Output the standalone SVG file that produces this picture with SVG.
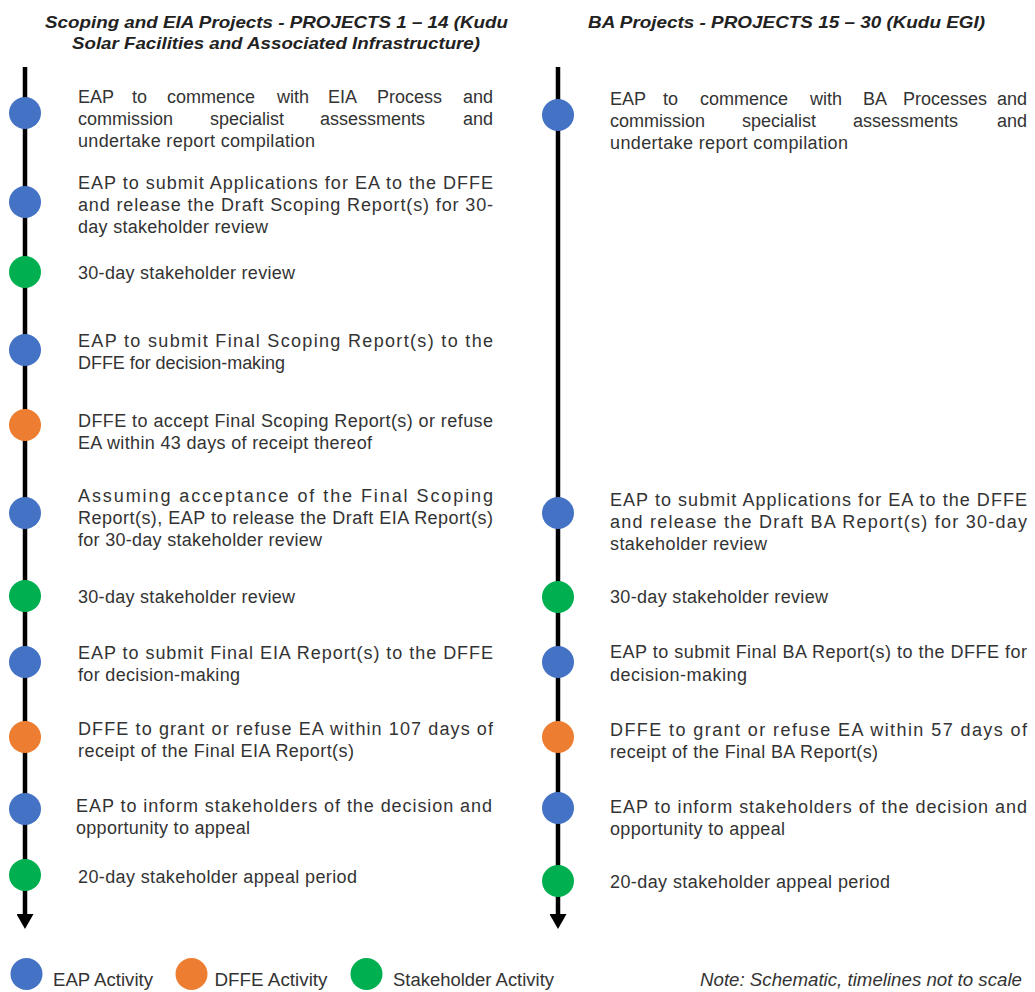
<svg xmlns="http://www.w3.org/2000/svg" width="1035" height="992" viewBox="0 0 1035 992">
<style>
text{font-family:"Liberation Sans",Arial,sans-serif;fill:#333;}
.b{font-size:18px;}
.h{font-size:17px;font-weight:bold;font-style:italic;fill:#222;}
.lg{font-size:18px;}
.nt{font-size:18px;font-style:italic;}
.eap{fill:#4472C4;}
.dffe{fill:#ED7D31;}
.stk{fill:#00B050;}
.tl{stroke:#000;stroke-width:4.5;fill:none;}
</style>
<defs>
<marker id="arr" markerUnits="userSpaceOnUse" viewBox="0 0 15 17" refX="0" refY="8.5" markerWidth="15" markerHeight="17" orient="auto">
<path d="M0,0 L15,8.5 L0,17 Z" fill="#000"/>
</marker>
</defs>
<rect width="1035" height="992" fill="#fff"/>

<g id="headers">
<text class="h" x="276.5" y="28" text-anchor="middle" textLength="463" lengthAdjust="spacingAndGlyphs">Scoping and EIA Projects - PROJECTS 1 – 14 (Kudu</text>
<text class="h" x="276" y="48.5" text-anchor="middle" textLength="408" lengthAdjust="spacingAndGlyphs">Solar Facilities and Associated Infrastructure)</text>
<text class="h" x="786.5" y="28" text-anchor="middle" textLength="397" lengthAdjust="spacingAndGlyphs">BA Projects - PROJECTS 15 – 30 (Kudu EGI)</text>
</g>

<g id="connectors">
<path class="tl" d="M25,67 V914" marker-end="url(#arr)"/>
<path class="tl" d="M558,67 V914" marker-end="url(#arr)"/>
</g>

<g id="L1">
<circle class="eap" cx="25" cy="113" r="16"/>
<text class="b" y="103"><tspan x="78">EAP</tspan><tspan x="132">to</tspan><tspan x="167">commence</tspan><tspan x="277">with</tspan><tspan x="328">EIA</tspan><tspan x="377">Process</tspan></text>
<text class="b" x="493" y="103" text-anchor="end">and</text>
<text class="b" y="125"><tspan x="78">commission</tspan><tspan x="210">specialist</tspan><tspan x="320">assessments</tspan></text>
<text class="b" x="493" y="125" text-anchor="end">and</text>
<text class="b" x="78" y="147" textLength="237" lengthAdjust="spacing">undertake report compilation</text>
</g>

<g id="L2">
<circle class="eap" cx="25" cy="202" r="16"/>
<text class="b" x="78" y="189" textLength="415" lengthAdjust="spacing">EAP to submit Applications for EA to the DFFE</text>
<text class="b" x="78" y="211" textLength="415" lengthAdjust="spacing">and release the Draft Scoping Report(s) for 30-</text>
<text class="b" x="78" y="233" textLength="190" lengthAdjust="spacing">day stakeholder review</text>
</g>

<g id="L3">
<circle class="stk" cx="25" cy="272" r="16"/>
<text class="b" x="78" y="279" textLength="217" lengthAdjust="spacing">30-day stakeholder review</text>
</g>

<g id="L4">
<circle class="eap" cx="25" cy="350" r="16"/>
<text class="b" x="78" y="347" textLength="415" lengthAdjust="spacing">EAP to submit Final Scoping Report(s) to the</text>
<text class="b" x="78" y="369" textLength="207" lengthAdjust="spacing">DFFE for decision-making</text>
</g>

<g id="L5">
<circle class="dffe" cx="25" cy="425" r="16"/>
<text class="b" x="78" y="427" textLength="415" lengthAdjust="spacing">DFFE to accept Final Scoping Report(s) or refuse</text>
<text class="b" x="78" y="449" textLength="294" lengthAdjust="spacing">EA within 43 days of receipt thereof</text>
</g>

<g id="L6">
<circle class="eap" cx="25" cy="513" r="16"/>
<text class="b" x="78" y="502" textLength="415" lengthAdjust="spacing">Assuming acceptance of the Final Scoping</text>
<text class="b" x="78" y="524" textLength="415" lengthAdjust="spacing">Report(s), EAP to release the Draft EIA Report(s)</text>
<text class="b" x="78" y="546" textLength="244" lengthAdjust="spacing">for 30-day stakeholder review</text>
</g>

<g id="L7">
<circle class="stk" cx="25" cy="596" r="16"/>
<text class="b" x="78" y="603" textLength="217" lengthAdjust="spacing">30-day stakeholder review</text>
</g>

<g id="L8">
<circle class="eap" cx="25" cy="662" r="16"/>
<text class="b" x="78" y="659" textLength="415" lengthAdjust="spacing">EAP to submit Final EIA Report(s) to the DFFE</text>
<text class="b" x="78" y="681" textLength="162" lengthAdjust="spacing">for decision-making</text>
</g>

<g id="L9">
<circle class="dffe" cx="25" cy="737" r="16"/>
<text class="b" x="78" y="735" textLength="415" lengthAdjust="spacing">DFFE to grant or refuse EA within 107 days of</text>
<text class="b" x="78" y="757" textLength="276" lengthAdjust="spacing">receipt of the Final EIA Report(s)</text>
</g>

<g id="L10">
<circle class="eap" cx="25" cy="809" r="16"/>
<text class="b" x="76" y="812" textLength="416" lengthAdjust="spacing">EAP to inform stakeholders of the decision and</text>
<text class="b" x="76" y="834" textLength="174" lengthAdjust="spacing">opportunity to appeal</text>
</g>

<g id="L11">
<circle class="stk" cx="25" cy="875" r="16"/>
<text class="b" x="78" y="883" textLength="279" lengthAdjust="spacing">20-day stakeholder appeal period</text>
</g>

<g id="R1">
<circle class="eap" cx="558" cy="115" r="16"/>
<text class="b" y="105"><tspan x="610">EAP</tspan><tspan x="663">to</tspan><tspan x="700">commence</tspan><tspan x="810">with</tspan><tspan x="863">BA</tspan><tspan x="903">Processes</tspan></text>
<text class="b" x="1027" y="105" text-anchor="end">and</text>
<text class="b" y="127"><tspan x="610">commission</tspan><tspan x="742">specialist</tspan><tspan x="853">assessments</tspan></text>
<text class="b" x="1027" y="127" text-anchor="end">and</text>
<text class="b" x="610" y="149" textLength="238" lengthAdjust="spacing">undertake report compilation</text>
</g>

<g id="R2">
<circle class="eap" cx="558" cy="513" r="16"/>
<text class="b" x="610" y="506" textLength="417" lengthAdjust="spacing">EAP to submit Applications for EA to the DFFE</text>
<text class="b" x="610" y="528" textLength="417" lengthAdjust="spacing">and release the Draft BA Report(s) for 30-day</text>
<text class="b" x="610" y="550" textLength="157" lengthAdjust="spacing">stakeholder review</text>
</g>

<g id="R3">
<circle class="stk" cx="558" cy="597" r="16"/>
<text class="b" x="610" y="603" textLength="218" lengthAdjust="spacing">30-day stakeholder review</text>
</g>

<g id="R4">
<circle class="eap" cx="558" cy="662" r="16"/>
<text class="b" x="610" y="658" textLength="417" lengthAdjust="spacing">EAP to submit Final BA Report(s) to the DFFE for</text>
<text class="b" x="610" y="681" textLength="137" lengthAdjust="spacing">decision-making</text>
</g>

<g id="R5">
<circle class="dffe" cx="558" cy="737" r="16"/>
<text class="b" x="610" y="736" textLength="417" lengthAdjust="spacing">DFFE to grant or refuse EA within 57 days of</text>
<text class="b" x="610" y="758" textLength="268" lengthAdjust="spacing">receipt of the Final BA Report(s)</text>
</g>

<g id="R6">
<circle class="eap" cx="558" cy="808" r="16"/>
<text class="b" x="610" y="813" textLength="417" lengthAdjust="spacing">EAP to inform stakeholders of the decision and</text>
<text class="b" x="610" y="835" textLength="175" lengthAdjust="spacing">opportunity to appeal</text>
</g>

<g id="R7">
<circle class="stk" cx="558" cy="881" r="16"/>
<text class="b" x="610" y="888" textLength="280" lengthAdjust="spacing">20-day stakeholder appeal period</text>
</g>

<g id="legend">
<circle class="eap" cx="26.5" cy="974" r="16"/>
<text class="lg" x="53" y="986" textLength="100" lengthAdjust="spacingAndGlyphs">EAP Activity</text>
<circle class="dffe" cx="191.5" cy="974" r="16"/>
<text class="lg" x="214.5" y="986" textLength="113" lengthAdjust="spacingAndGlyphs">DFFE Activity</text>
<circle class="stk" cx="366.5" cy="974" r="16"/>
<text class="lg" x="393" y="986" textLength="161" lengthAdjust="spacingAndGlyphs">Stakeholder Activity</text>
<text class="nt" x="700" y="986" textLength="322" lengthAdjust="spacingAndGlyphs">Note: Schematic, timelines not to scale</text>
</g>
</svg>
